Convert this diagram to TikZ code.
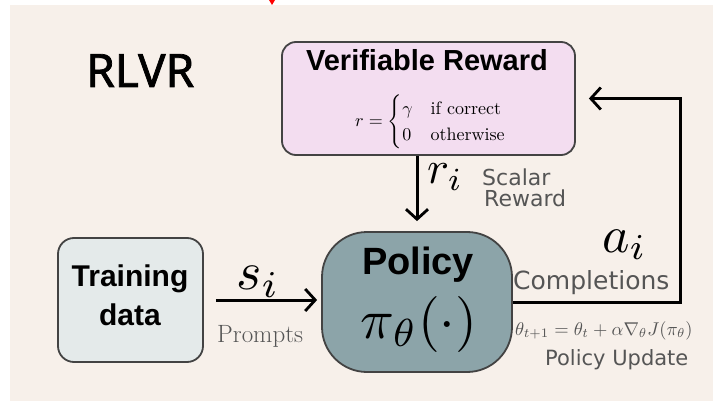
\documentclass[tikz,border=0pt]{standalone}
\usepackage{amsmath}
\usepackage{graphicx}
\usepackage{fontspec}
\newfontfamily\headfont{Liberation Sans}
\newfontfamily\labelfont{DejaVu Sans}
\newfontfamily\titlefont{Noto Sans}[FakeBold=1.6]
\usetikzlibrary{arrows.meta}

\definecolor{paper}{HTML}{F7F0EA}
\definecolor{boxline}{HTML}{434343}
\definecolor{vrfill}{HTML}{F3DDF0}
\definecolor{polfill}{HTML}{8CA4A9}
\definecolor{datafill}{HTML}{E4EAEA}
\definecolor{labelgray}{HTML}{555555}

% math scaled up from 10pt
\newcommand{\mathat}[2]{\scalebox{#1}{$#2$}}

\tikzset{
  box/.style={draw=boxline, line width=1.8pt, inner sep=0pt},
  flow/.style={line width=3pt, draw=black,
    -{Straight Barb[length=10pt,width=22pt,line width=2.8pt]}},
  txt/.style={inner sep=0pt, anchor=base west},
  ctxt/.style={inner sep=0pt, anchor=base},
}

\begin{document}
\begin{tikzpicture}[x=1pt,y=-1pt]
\useasboundingbox (0,0) rectangle (713,401);
\fill[white] (0,0) rectangle (713,401);
\fill[paper] (10,5) rectangle (713,401);
\fill[red] (269,0) -- (275,0) -- (272,5) -- cycle;

% title
\node[txt] (title) at (86,87) {\titlefont\fontsize{46}{50}\selectfont RLVR};

% boxes
\node[box, fill=vrfill, rounded corners=14pt, minimum width=293pt, minimum height=113pt] (vr) at (428.5,98.5) {};
\node[box, fill=polfill, rounded corners=45pt, minimum width=190pt, minimum height=140pt] (pol) at (417,302) {};
\node[box, fill=datafill, rounded corners=16pt, minimum width=145pt, minimum height=124pt] (data) at (130.5,300) {};

% reward box contents
\node[ctxt] (vrhead) at (427,71) {\headfont\bfseries\fontsize{29}{32}\selectfont Verifiable Reward};
\node[inner sep=0pt] (vrrule) at (431,122) {\scalebox{1.8}{%
  $r=\begin{cases}\gamma & \text{if correct}\\ 0 & \text{otherwise}\end{cases}$}};

% policy box contents
\node[ctxt] (polhead) at (418,274) {\headfont\bfseries\fontsize{38}{42}\selectfont Policy};
\node[ctxt] (polmath) at (419,338) {\mathat{5.6}{\pi_{\theta}(\cdot)}};

% training data contents
\node[ctxt] (datal1) at (130,287) {\headfont\bfseries\fontsize{30}{33}\selectfont Training};
\node[ctxt] (datal2) at (130,325) {\headfont\bfseries\fontsize{30}{33}\selectfont data};

% connectors
\draw[flow, shorten >=10pt] (pol.north |- vr.south) -- (pol.north);
\draw[flow, shorten <=12pt, shorten >=4pt] (data.east) -- (data.east -| pol.west);
\coordinate (turn) at (680,302);
\draw[flow, shorten >=13pt] (pol.east) -- (turn) |- (vr.east);

% connector labels
\node[txt] (si) at (236,289) {\mathat{5.4}{s_i}};
\node[txt, text=labelgray] (prompts) at (217,342) {\fontsize{25}{28}\selectfont Prompts};
\node[txt] (ri) at (427,184) {\mathat{4.6}{r_i}};
\node[txt, text=labelgray] (scalar) at (482,186) {\labelfont\fontsize{22}{22}\selectfont Scalar};
\node[txt, text=labelgray] (reward) at (484,207) {\labelfont\fontsize{22}{22}\selectfont Reward};
\node[txt] (ai) at (602,252) {\mathat{5.2}{a_i}};
\node[txt, text=labelgray] (compl) at (513,290) {\labelfont\fontsize{25}{26}\selectfont Completions};
\node[txt, text=labelgray] (upd) at (515,335) {\mathat{1.85}{\theta_{t+1}=\theta_t+\alpha\nabla_{\theta}J(\pi_{\theta})}};
\node[txt, text=labelgray] (updlbl) at (545,365) {\labelfont\fontsize{21}{22}\selectfont Policy Update};
\end{tikzpicture}
\end{document}
